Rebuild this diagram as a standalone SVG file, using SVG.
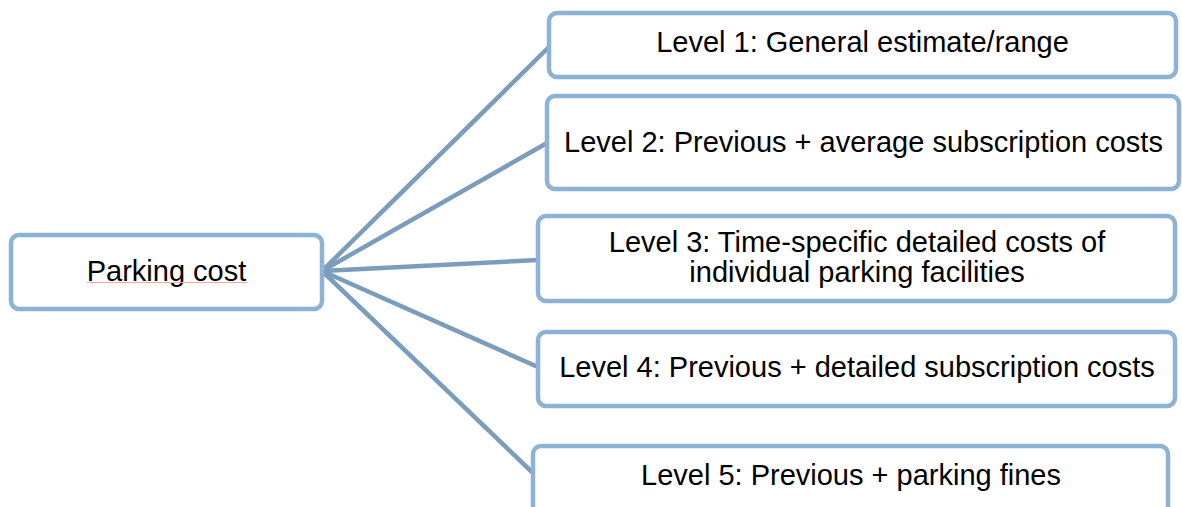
<svg xmlns="http://www.w3.org/2000/svg" width="1182" height="507" viewBox="0 0 1182 507">
<style>
.box{fill:#ffffff;stroke:#8cb3d5;stroke-width:4.5}
.lbl{font-family:"Liberation Sans",Arial,sans-serif;font-size:29px;fill:#000000;text-anchor:middle}
.conn{stroke:#7b9dbd;stroke-width:4.5;fill:none;stroke-linecap:round}
</style>
<rect width="1182" height="507" fill="#ffffff"/>
<g id="connectors">
<line class="conn" x1="322" y1="271" x2="549" y2="47"/>
<line class="conn" x1="322" y1="271" x2="547" y2="143"/>
<line class="conn" x1="322" y1="271" x2="538" y2="260"/>
<line class="conn" x1="322" y1="271" x2="538" y2="367"/>
<line class="conn" x1="322" y1="271" x2="533" y2="473"/>
</g>
<g id="parking-cost">
<rect class="box" x="11" y="235" width="311" height="74" rx="8"/>
<text class="lbl" x="166.5" y="281">Parking cost</text>
<line x1="87" y1="282.5" x2="247" y2="282.5" stroke="#f4a6a6" stroke-width="1"/>
</g>
<g id="level1">
<rect class="box" x="549" y="13" width="627" height="64" rx="8"/>
<text class="lbl" x="862.5" y="52">Level 1: General estimate/range</text>
</g>
<g id="level2">
<rect class="box" x="547" y="96" width="632" height="93" rx="8"/>
<text class="lbl" x="863.5" y="152">Level 2: Previous + average subscription costs</text>
</g>
<g id="level3">
<rect class="box" x="538" y="216" width="637" height="85" rx="8"/>
<text class="lbl" x="857" y="252">Level 3: Time-specific detailed costs of</text>
<text class="lbl" x="857" y="282">individual parking facilities</text>
</g>
<g id="level4">
<rect class="box" x="538" y="332" width="637" height="74" rx="8"/>
<text class="lbl" x="857" y="377">Level 4: Previous + detailed subscription costs</text>
</g>
<g id="level5">
<rect class="box" x="533" y="446" width="635" height="70" rx="8"/>
<text class="lbl" x="851" y="485">Level 5: Previous + parking fines</text>
</g>
</svg>
